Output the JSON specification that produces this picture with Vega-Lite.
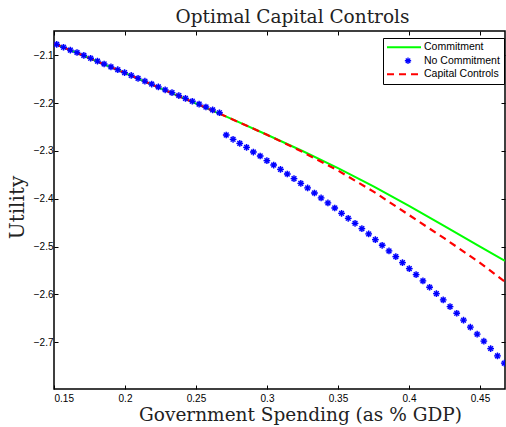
{
  "$schema": "https://vega.github.io/schema/vega-lite/v6.json",
  "width": 451,
  "height": 358,
  "autosize": {"type": "none"},
  "padding": {"left": 54, "top": 31, "right": 1, "bottom": 38},
  "background": "white",
  "title": {"text": "Optimal Capital Controls", "font": "DejaVu Serif", "fontSize": 18.5, "fontWeight": "normal", "color": "#222", "dx": 13, "offset": 4},
  "config": {
    "view": {"stroke": "black", "strokeWidth": 1.5},
    "axis": {"grid": false, "domain": false, "tickColor": "black", "tickSize": -4, "tickWidth": 1, "labelFont": "Liberation Sans", "labelFontSize": 10, "labelColor": "black", "titleFont": "DejaVu Serif", "titleFontWeight": "normal", "titleColor": "#222"}
  },
  "datasets": {
    "lines": [
      {"x": 0.15, "y": -2.075, "series": "Commitment"},
      {"x": 0.175, "y": -2.106, "series": "Commitment"},
      {"x": 0.2, "y": -2.137, "series": "Commitment"},
      {"x": 0.225, "y": -2.169, "series": "Commitment"},
      {"x": 0.25, "y": -2.201, "series": "Commitment"},
      {"x": 0.275, "y": -2.233, "series": "Commitment"},
      {"x": 0.3, "y": -2.266, "series": "Commitment"},
      {"x": 0.325, "y": -2.3, "series": "Commitment"},
      {"x": 0.35, "y": -2.336, "series": "Commitment"},
      {"x": 0.375, "y": -2.374, "series": "Commitment"},
      {"x": 0.4, "y": -2.415, "series": "Commitment"},
      {"x": 0.425, "y": -2.457, "series": "Commitment"},
      {"x": 0.45, "y": -2.5, "series": "Commitment"},
      {"x": 0.4676, "y": -2.53, "series": "Commitment"},
      {"x": 0.15, "y": -2.075, "series": "Capital Controls"},
      {"x": 0.175, "y": -2.106, "series": "Capital Controls"},
      {"x": 0.2, "y": -2.137, "series": "Capital Controls"},
      {"x": 0.225, "y": -2.169, "series": "Capital Controls"},
      {"x": 0.25, "y": -2.201, "series": "Capital Controls"},
      {"x": 0.275, "y": -2.233, "series": "Capital Controls"},
      {"x": 0.3, "y": -2.266, "series": "Capital Controls"},
      {"x": 0.325, "y": -2.302, "series": "Capital Controls"},
      {"x": 0.35, "y": -2.341, "series": "Capital Controls"},
      {"x": 0.375, "y": -2.385, "series": "Capital Controls"},
      {"x": 0.4, "y": -2.434, "series": "Capital Controls"},
      {"x": 0.425, "y": -2.483, "series": "Capital Controls"},
      {"x": 0.45, "y": -2.534, "series": "Capital Controls"},
      {"x": 0.4676, "y": -2.574, "series": "Capital Controls"}
    ],
    "points": [
      {"x": 0.1519, "y": -2.077, "series": "No Commitment"},
      {"x": 0.1567, "y": -2.083, "series": "No Commitment"},
      {"x": 0.1615, "y": -2.089, "series": "No Commitment"},
      {"x": 0.1662, "y": -2.094, "series": "No Commitment"},
      {"x": 0.171, "y": -2.1, "series": "No Commitment"},
      {"x": 0.1758, "y": -2.106, "series": "No Commitment"},
      {"x": 0.1806, "y": -2.112, "series": "No Commitment"},
      {"x": 0.1853, "y": -2.118, "series": "No Commitment"},
      {"x": 0.1901, "y": -2.124, "series": "No Commitment"},
      {"x": 0.1949, "y": -2.13, "series": "No Commitment"},
      {"x": 0.1997, "y": -2.136, "series": "No Commitment"},
      {"x": 0.2044, "y": -2.142, "series": "No Commitment"},
      {"x": 0.2092, "y": -2.148, "series": "No Commitment"},
      {"x": 0.214, "y": -2.154, "series": "No Commitment"},
      {"x": 0.2188, "y": -2.16, "series": "No Commitment"},
      {"x": 0.2235, "y": -2.166, "series": "No Commitment"},
      {"x": 0.2283, "y": -2.172, "series": "No Commitment"},
      {"x": 0.2331, "y": -2.178, "series": "No Commitment"},
      {"x": 0.2379, "y": -2.184, "series": "No Commitment"},
      {"x": 0.2426, "y": -2.19, "series": "No Commitment"},
      {"x": 0.2474, "y": -2.196, "series": "No Commitment"},
      {"x": 0.2522, "y": -2.202, "series": "No Commitment"},
      {"x": 0.257, "y": -2.208, "series": "No Commitment"},
      {"x": 0.2617, "y": -2.214, "series": "No Commitment"},
      {"x": 0.2665, "y": -2.22, "series": "No Commitment"},
      {"x": 0.2713, "y": -2.2666, "series": "No Commitment"},
      {"x": 0.2761, "y": -2.2756, "series": "No Commitment"},
      {"x": 0.2808, "y": -2.2841, "series": "No Commitment"},
      {"x": 0.2856, "y": -2.2924, "series": "No Commitment"},
      {"x": 0.2904, "y": -2.3022, "series": "No Commitment"},
      {"x": 0.2952, "y": -2.3105, "series": "No Commitment"},
      {"x": 0.2999, "y": -2.3203, "series": "No Commitment"},
      {"x": 0.3047, "y": -2.3294, "series": "No Commitment"},
      {"x": 0.3095, "y": -2.3384, "series": "No Commitment"},
      {"x": 0.3143, "y": -2.3482, "series": "No Commitment"},
      {"x": 0.319, "y": -2.3579, "series": "No Commitment"},
      {"x": 0.3238, "y": -2.3677, "series": "No Commitment"},
      {"x": 0.3286, "y": -2.3774, "series": "No Commitment"},
      {"x": 0.3334, "y": -2.3879, "series": "No Commitment"},
      {"x": 0.3381, "y": -2.3983, "series": "No Commitment"},
      {"x": 0.3429, "y": -2.4088, "series": "No Commitment"},
      {"x": 0.3477, "y": -2.4193, "series": "No Commitment"},
      {"x": 0.3525, "y": -2.4304, "series": "No Commitment"},
      {"x": 0.3572, "y": -2.4409, "series": "No Commitment"},
      {"x": 0.362, "y": -2.4513, "series": "No Commitment"},
      {"x": 0.3668, "y": -2.4625, "series": "No Commitment"},
      {"x": 0.3716, "y": -2.4736, "series": "No Commitment"},
      {"x": 0.3763, "y": -2.4855, "series": "No Commitment"},
      {"x": 0.3811, "y": -2.4973, "series": "No Commitment"},
      {"x": 0.3859, "y": -2.5092, "series": "No Commitment"},
      {"x": 0.3907, "y": -2.521, "series": "No Commitment"},
      {"x": 0.3954, "y": -2.5336, "series": "No Commitment"},
      {"x": 0.4002, "y": -2.5461, "series": "No Commitment"},
      {"x": 0.405, "y": -2.5586, "series": "No Commitment"},
      {"x": 0.4098, "y": -2.5719, "series": "No Commitment"},
      {"x": 0.4145, "y": -2.5851, "series": "No Commitment"},
      {"x": 0.4193, "y": -2.5984, "series": "No Commitment"},
      {"x": 0.4241, "y": -2.6116, "series": "No Commitment"},
      {"x": 0.4289, "y": -2.6256, "series": "No Commitment"},
      {"x": 0.4336, "y": -2.6395, "series": "No Commitment"},
      {"x": 0.4384, "y": -2.6541, "series": "No Commitment"},
      {"x": 0.4432, "y": -2.6687, "series": "No Commitment"},
      {"x": 0.448, "y": -2.6834, "series": "No Commitment"},
      {"x": 0.4527, "y": -2.698, "series": "No Commitment"},
      {"x": 0.4575, "y": -2.7134, "series": "No Commitment"},
      {"x": 0.4623, "y": -2.7287, "series": "No Commitment"},
      {"x": 0.4671, "y": -2.744, "series": "No Commitment"}
    ]
  },
  "layer": [
    {
      "data": {"name": "lines"},
      "transform": [{"filter": "datum.series === 'Commitment'"}],
      "mark": {"type": "line", "strokeWidth": 2, "clip": true},
      "encoding": {
        "x": {"field": "x", "type": "quantitative", "scale": {"domain": [0.15, 0.4676], "nice": false, "zero": false},
              "axis": {"orient": "bottom", "values": [0.15, 0.2, 0.25, 0.3, 0.35, 0.4, 0.45], "format": "~g", "labelPadding": 8, "title": "Government Spending (as % GDP)", "titleFontSize": 18.5, "titlePadding": 2, "titleX": 246}},
        "y": {"field": "y", "type": "quantitative", "scale": {"domain": [-2.798, -2.049], "nice": false, "zero": false},
              "axis": {"orient": "left", "values": [-2.1, -2.2, -2.3, -2.4, -2.5, -2.6, -2.7], "format": ".1f", "labelPadding": 5, "title": "Utility", "titleFontSize": 20, "titlePadding": 6, "titleY": 176}},
        "color": {"field": "series", "type": "nominal",
                  "scale": {"domain": ["Commitment", "No Commitment", "Capital Controls"], "range": ["#00ff00", "#0000ff", "#ff0000"]},
                  "legend": {"title": null, "orient": "none", "legendX": 329, "legendY": 7, "fillColor": "white", "strokeColor": "black", "padding": 4,
                             "labelFont": "Liberation Sans", "labelFontSize": 10.5, "labelColor": "black", "labelOffset": 3, "rowPadding": 1.5,
                             "symbolType": "stroke", "symbolSize": 1156, "symbolStrokeWidth": 2,
                             "encode": {
                               "symbols": {"update": {
                                 "x": {"signal": "datum.value === 'No Commitment' ? 21 : 17"},
                                 "shape": {"signal": "datum.value === 'No Commitment' ? 'M-1,0H1M0,-1V1M-0.7,-0.7L0.7,0.7M-0.7,0.7L0.7,-0.7' : 'stroke'"},
                                 "size": {"signal": "datum.value === 'No Commitment' ? 40 : 1156"},
                                 "strokeDash": {"signal": "datum.value === 'Capital Controls' ? [7, 5] : [1, 0]"},
                                 "strokeWidth": {"signal": "datum.value === 'No Commitment' ? 1.3 : 2"},
                                 "fill": {"value": "transparent"}
                               }},
                               "labels": {"update": {"x": {"value": 37}}}
                             }}}
      }
    },
    {
      "data": {"name": "lines"},
      "transform": [{"filter": "datum.series === 'Capital Controls'"}],
      "mark": {"type": "line", "strokeWidth": 2.2, "strokeDash": [7, 5], "clip": true},
      "encoding": {
        "x": {"field": "x", "type": "quantitative", "axis": null},
        "y": {"field": "y", "type": "quantitative", "axis": null},
        "color": {"field": "series", "type": "nominal"}
      }
    },
    {
      "data": {"name": "points"},
      "mark": {"type": "point", "shape": "circle", "filled": true, "size": 40, "opacity": 0.25, "clip": true},
      "encoding": {
        "x": {"field": "x", "type": "quantitative", "axis": null},
        "y": {"field": "y", "type": "quantitative", "axis": null},
        "color": {"field": "series", "type": "nominal", "legend": null}
      }
    },
    {
      "data": {"name": "points"},
      "mark": {"type": "point", "shape": "M-1,0H1M0,-1V1M-0.7,-0.7L0.7,0.7M-0.7,0.7L0.7,-0.7", "filled": false, "size": 45, "strokeWidth": 1.3, "opacity": 1, "clip": true},
      "encoding": {
        "x": {"field": "x", "type": "quantitative",
              "axis": {"orient": "top", "values": [0.15, 0.2, 0.25, 0.3, 0.35, 0.4, 0.45], "labels": false, "title": null}},
        "y": {"field": "y", "type": "quantitative",
              "axis": {"orient": "right", "values": [-2.1, -2.2, -2.3, -2.4, -2.5, -2.6, -2.7], "labels": false, "title": null}},
        "color": {"field": "series", "type": "nominal"}
      }
    }
  ],
  "resolve": {"axis": {"x": "independent", "y": "independent"}}
}
